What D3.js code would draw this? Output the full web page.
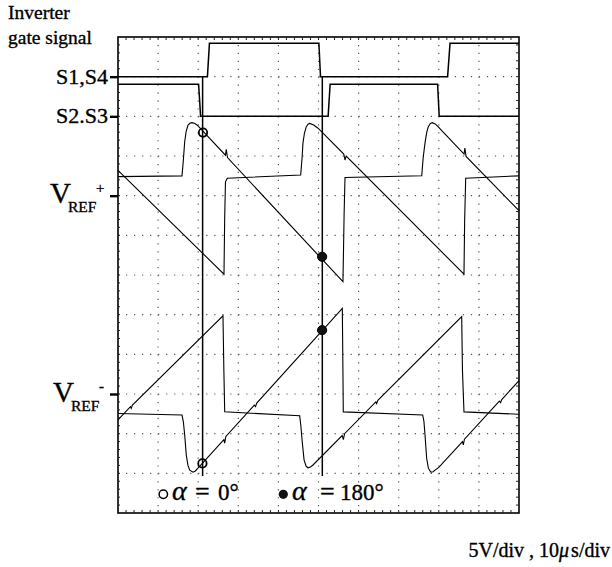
<!DOCTYPE html>
<html>
<head>
<meta charset="utf-8">
<script src="https://cdn.jsdelivr.net/npm/d3@7"></script>
<style>
body{margin:0;background:#fff;}
svg{display:block;font-family:"Liberation Serif","Times New Roman",serif;}
text{stroke:#000;stroke-width:0.35px;}
</style>
</head>
<body>
<svg id="chart" width="612" height="567"></svg>
<script>
// time in microseconds (10 us/div), level in screen divisions (0 = bottom edge)
var gateS14 = [[0,11],[22.3,11],[22.8,11.84],[50.1,11.84],[50.5,11],[82.2,11],[82.8,11.84],[100,11.84]];
var gateS23 = [[0,10.81],[20.1,10.81],[20.6,10],[52.4,10],[52.9,10.81],[79.7,10.81],[80.1,10],[100,10]];

var refPlusA = [[0,8.48],[15.96,8.5],[16.3,8.9],[16.63,9.36],[17,9.62],[17.46,9.78],[18,9.83],[18.45,9.84],[19.2,9.82],[19.95,9.76],
  [26.8,9.02],[27,9.17],[27.3,8.96],[56.1,5.83],[56.4,7.6],[56.61,8.46],[75.74,8.5],[76.1,8.95],[76.56,9.33],[77,9.6],[77.38,9.74],
  [77.9,9.82],[78.38,9.84],[79.1,9.81],[79.8,9.74],[86.3,9.05],[86.5,9.2],[86.8,8.99],[100,7.62]];
var refPlusB = [[0,8.64],[26.43,6.02],[26.6,7.4],[26.8,8.35],[27.26,8.44],[45.56,8.52],[45.9,8.95],[46.13,9.33],[46.5,9.58],[46.96,9.74],
  [47.4,9.8],[47.81,9.82],[48.8,9.78],[49.88,9.7],[56.3,9.05],[56.6,8.9],[56.9,9],[86.28,6.02],[86.45,7.4],[86.71,8.44],[100,8.5]];
var refMinusA = [[0,2.51],[15.96,2.47],[16.3,2.3],[16.63,1.97],[17.03,1.46],[17.45,1.2],[17.88,1.08],[18.7,1.03],[19.3,1.06],[19.95,1.13],
  [26.4,1.85],[26.6,1.76],[26.9,1.93],[34,2.72],[34.3,2.68],[34.6,2.77],[55.94,5.16],[56.1,3.5],[56.18,2.55],[75.99,2.47],[76.3,2.3],
  [76.56,1.97],[76.97,1.38],[77.4,1.13],[77.98,1.03],[78.6,1.04],[79.05,1.08],[80,1.15],[85.9,1.8],[86.11,1.72],[86.4,1.86],
  [95.1,2.82],[95.4,2.78],[95.7,2.86],[100,3.34]];
var refMinusB = [[0,2.35],[3.1,2.68],[3.3,2.64],[3.6,2.72],[26.18,4.97],[26.4,3.6],[26.61,2.55],[45.31,2.45],[45.6,2.2],[45.9,1.84],
  [46.4,1.34],[46.9,1.18],[47.38,1.14],[48,1.16],[48.63,1.21],[55.9,1.95],[56.2,1.85],[56.5,2],[64.3,2.8],[64.5,2.76],[64.8,2.84],
  [85.71,4.95],[85.9,3.6],[86.28,2.55],[100,2.49]];

var markerTimes = [21.1, 50.95];
var markerSpan = [0.93, 11];
var openPoints = [[21.2,9.59],[21.05,1.25]];
var filledPoints = [[50.9,6.46],[50.9,4.61]];

var levelValues = [11, 10, 8, 3];
var levelNames = ["S1,S4", "S2.S3", "+", "-"];

var svg = d3.select("#chart");
var x = d3.scaleLinear().domain([0,100]).range([118,519]);
var y = d3.scaleLinear().domain([0,12]).range([513,37]);

// dotted graticule
var xStep = x(2) - x(0), yStep = y(0) - y(0.2);
var grid = svg.append("g").attr("stroke","#555").attr("stroke-width",1.2);
grid.selectAll(".gx").data(d3.range(10,100,10)).join("line")
  .attr("x1",d=>x(d)).attr("x2",d=>x(d)).attr("y1",y(12)).attr("y2",y(0))
  .attr("stroke-dasharray","1.2 " + (yStep-1.2));
grid.selectAll(".gy").data(d3.range(1,12)).join("line")
  .attr("x1",x(0)).attr("x2",x(100)).attr("y1",d=>y(d)).attr("y2",d=>y(d))
  .attr("stroke-dasharray","1.2 " + (xStep-1.2));

// frame with minor ticks
svg.append("rect").attr("x",x(0)).attr("y",y(12)).attr("width",x(100)-x(0)).attr("height",y(0)-y(12))
  .attr("fill","none").attr("stroke","#000").attr("stroke-width",1.6);
var fr = svg.append("g").attr("stroke","#222").attr("stroke-width",1);
var xm = d3.range(2,100,2), ym = d3.range(0.2,12,0.2);
fr.selectAll(".tb").data(xm).join("line").attr("x1",d=>x(d)).attr("x2",d=>x(d)).attr("y1",y(0)).attr("y2",y(0)-3);
fr.selectAll(".tt").data(xm).join("line").attr("x1",d=>x(d)).attr("x2",d=>x(d)).attr("y1",y(12)).attr("y2",y(12)+3);
fr.selectAll(".tl").data(ym).join("line").attr("x1",x(0)).attr("x2",x(0)+2).attr("y1",d=>y(d)).attr("y2",d=>y(d));
fr.selectAll(".tr").data(ym).join("line").attr("x1",x(100)).attr("x2",x(100)-3).attr("y1",d=>y(d)).attr("y2",d=>y(d));

// level ticks on the left
var yAxis = svg.append("g").attr("transform","translate(" + x(0) + ",0)")
  .call(d3.axisLeft(y).tickValues(levelValues).tickSize(8).tickFormat(""));
yAxis.select(".domain").remove();
yAxis.selectAll("line").attr("stroke-width",2.4);

var line = d3.line().x(d=>x(d[0])).y(d=>y(d[1]));

svg.append("g").attr("fill","none").attr("stroke","#000").attr("stroke-width",1.1)
  .selectAll("path").data([refPlusA, refPlusB, refMinusA, refMinusB]).join("path")
  .attr("d",line);

svg.append("g").attr("fill","none").attr("stroke","#000").attr("stroke-width",1.5)
  .selectAll("path").data([gateS14, gateS23]).join("path")
  .attr("d",line);

svg.append("g").attr("stroke","#000").attr("stroke-width",1.5)
  .selectAll("line").data(markerTimes).join("line")
  .attr("x1",d=>x(d)).attr("x2",d=>x(d)).attr("y1",y(markerSpan[1])).attr("y2",y(markerSpan[0]));

svg.selectAll(".op").data(openPoints).join("circle")
  .attr("cx",d=>x(d[0])).attr("cy",d=>y(d[1])).attr("r",4.2)
  .attr("fill","none").attr("stroke","#000").attr("stroke-width",1.8);
svg.selectAll(".fp").data(filledPoints).join("circle")
  .attr("cx",d=>x(d[0])).attr("cy",d=>y(d[1])).attr("r",4.6)
  .attr("fill","#111").attr("stroke","#000").attr("stroke-width",1);

// labels
svg.append("text").attr("x",8).attr("y",19).attr("font-size",19.5).text("Inverter");
svg.append("text").attr("x",8).attr("y",44).attr("font-size",19.5).text("gate signal");
svg.append("text").attr("x",108).attr("y",y(levelValues[0])+7).attr("text-anchor","end").attr("font-size",22).text(levelNames[0]);
svg.append("text").attr("x",108).attr("y",y(levelValues[1])+7).attr("text-anchor","end").attr("font-size",22).text(levelNames[1]);

[[levelValues[2],levelNames[2],50],[levelValues[3],levelNames[3],53]].forEach(function(l){
  var yy = y(l[0]);
  svg.append("text").attr("x",l[2]).attr("y",yy+7.5).attr("font-size",29).text("V");
  svg.append("text").attr("x",l[2]+18).attr("y",yy+16.5).attr("font-size",15.5).text("REF");
  svg.append("text").attr("x",l[2]+46).attr("y",yy-3).attr("font-size",15).text(l[1]);
});

// legend for the markers
svg.append("circle").attr("cx",163.3).attr("cy",494.3).attr("r",4.2).attr("fill","none").attr("stroke","#000").attr("stroke-width",1.5);
svg.append("circle").attr("cx",283.3).attr("cy",494.3).attr("r",4.6).attr("fill","#111");
var leg1 = svg.append("text").attr("y",500).attr("font-size",23);
leg1.append("tspan").attr("x",172).attr("font-style","italic").attr("font-size",28).text("α");
leg1.append("tspan").attr("x",195).attr("font-size",26).text("=");
leg1.append("tspan").attr("x",218).text("0°");
var leg2 = svg.append("text").attr("y",500).attr("font-size",23);
leg2.append("tspan").attr("x",292).attr("font-style","italic").attr("font-size",28).text("α");
leg2.append("tspan").attr("x",320).attr("font-size",26).text("=");
leg2.append("tspan").attr("x",340).text("180°");

var sc = svg.append("text").attr("x",610).attr("y",557).attr("text-anchor","end").attr("font-size",20);
sc.append("tspan").text("5V/div , 10");
sc.append("tspan").attr("font-style","italic").text("μ");
sc.append("tspan").attr("dx",2).text("s/div");
</script>
</body>
</html>
